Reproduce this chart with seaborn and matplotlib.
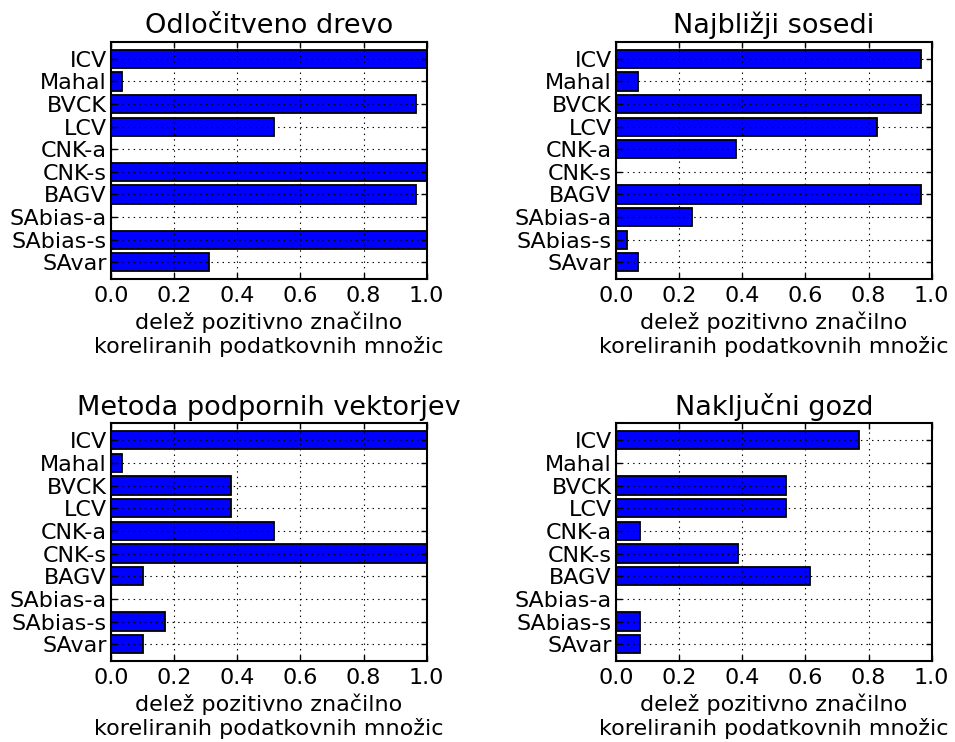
import matplotlib
matplotlib.use("Agg")
import matplotlib.pyplot as plt
import seaborn as sns
import pandas as pd

categories = ["ICV", "Mahal", "BVCK", "LCV", "CNK-a", "CNK-s", "BAGV",
              "SAbias-a", "SAbias-s", "SAvar"]

titles = ["Odločitveno drevo", "Najbližji sosedi",
          "Metoda podpornih vektorjev", "Naključni gozd"]

tree_vals = [1.0, 0.034, 0.966, 0.517, 0.0, 1.0, 0.966, 0.0, 1.0, 0.310]
knn_vals = [0.966, 0.069, 0.966, 0.828, 0.379, 0.0, 0.966, 0.241, 0.034, 0.069]
svm_vals = [1.0, 0.034, 0.379, 0.379, 0.517, 1.0, 0.103, 0.0, 0.172, 0.103]
rf_vals = [0.769, 0.0, 0.538, 0.538, 0.077, 0.385, 0.615, 0.0, 0.077, 0.077]

xticks = [0.0, 0.2, 0.4, 0.6, 0.8, 1.0]
xlabel = "delež pozitivno značilno\nkoreliranih podatkovnih množic"

plt.rcParams["font.family"] = ["DejaVu Sans"]
plt.rcParams["lines.scale_dashes"] = False

fig = plt.figure(figsize=(9.55, 7.42), dpi=100)
positions = [
    [0.1162, 0.624, 0.3306, 0.3198],
    [0.645, 0.624, 0.3306, 0.3198],
    [0.1162, 0.1092, 0.3306, 0.3207],
    [0.645, 0.1092, 0.3306, 0.3207],
]
all_vals = [tree_vals, knn_vals, svm_vals, rf_vals]

for pos, title, vals in zip(positions, titles, all_vals):
    ax = fig.add_axes(pos)
    df = pd.DataFrame({"kategorija": categories, "vrednost": vals})
    sns.barplot(data=df, x="vrednost", y="kategorija", orient="h",
                color="#0000ff", saturation=1, edgecolor="black",
                linewidth=1.3, width=0.8, ax=ax, errorbar=None)
    ax.set_xlim(0, 1.0)
    ax.set_ylim(9.74, -0.76)
    ax.set_xticks(xticks)
    ax.set_xticklabels([f"{t:.1f}" for t in xticks])
    ax.set_yticks(range(len(categories)))
    ax.set_yticklabels(categories)
    ax.set_axisbelow(False)
    ax.grid(True, which="major", axis="both", color="black",
            linestyle=(0, (1, 3)), linewidth=0.8)
    ax.tick_params(axis="both", direction="in", length=4, width=1,
                   top=True, right=True, labelsize=16)
    ax.tick_params(axis="x", pad=5)
    ax.tick_params(axis="y", pad=3)
    for sp in ax.spines.values():
        sp.set_linewidth(1.5)
        sp.set_color("black")
    ax.set_title(title, fontsize=19.5, pad=6)
    ax.set_xlabel(xlabel, fontsize=16, labelpad=4)
    ax.set_ylabel("")

fig.savefig("out.png", dpi=100)
